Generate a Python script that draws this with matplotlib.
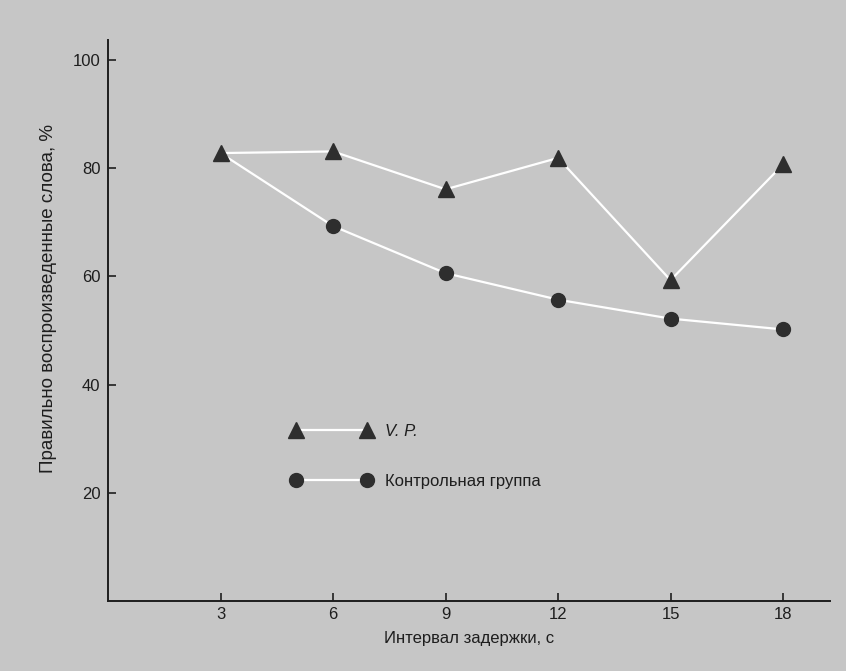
import matplotlib.pyplot as plt
from matplotlib.lines import Line2D

plt.rcParams['font.family'] = ['Liberation Sans Narrow', 'Liberation Sans', 'DejaVu Sans']

# data
delay = [3, 6, 9, 12, 15, 18]
vp = [82.8, 83.1, 76.1, 81.9, 59.3, 80.7]
control = [82.8, 69.3, 60.6, 55.7, 52.2, 50.2]

bg = '#c6c6c6'
dark = '#2e2e2e'
ink = '#1e1e1e'

fig = plt.figure(figsize=(8.46, 6.71), dpi=100, facecolor=bg)
ax = fig.add_axes([0.1277, 0.1043, 0.8533, 0.8361])
ax.set_facecolor(bg)

#lines
ax.plot(delay, vp, color='white', lw=1.6, zorder=2)
ax.plot(delay, control, color='white', lw=1.6, zorder=2)
# no separate circle at 3 s, the control line starts under the triangle
ax.plot(delay[1:], control[1:], ls='none', marker='o', ms=10, color=dark, zorder=3)
ax.plot(delay, vp, ls='none', marker='^', ms=11, color=dark, zorder=4)

ax.set_xlim(0, 19.25)
ax.set_ylim(0, 103.7)
ax.set_xticks(delay)
ax.set_yticks([20, 40, 60, 80, 100])

for s in ['top', 'right']:
    ax.spines[s].set_visible(False)
for s in ['left', 'bottom']:
    ax.spines[s].set_color(ink)
    ax.spines[s].set_linewidth(1.4)
ax.tick_params(direction='in', length=6, width=1.2, color=ink,
               labelsize=12, labelcolor=ink)
ax.tick_params(axis='x', pad=4)
ax.tick_params(axis='y', pad=5.5)

ax.set_xlabel('Интервал задержки, с', fontsize=12, color=ink, labelpad=7)
ax.set_ylabel('Правильно воспроизведенные слова, %', fontsize=13.5, color=ink)
ax.yaxis.set_label_coords(-0.071, 0.54)

handles = [
    Line2D([], [], color='white', lw=1.6, marker='^', ms=11, mfc=dark, mec=dark),
    Line2D([], [], color='white', lw=1.6, marker='o', ms=10, mfc=dark, mec=dark),
]
labels = ['V. P.', 'Контрольная группа']
leg = ax.legend(handles, labels, loc='upper left', bbox_to_anchor=(0.253, 0.316),
                frameon=False, numpoints=2, handlelength=4.86, handletextpad=0.8,
                labelspacing=2.1, borderpad=0, borderaxespad=0, fontsize=12)
leg.get_texts()[0].set_style('italic')
for t in leg.get_texts():
    t.set_color(ink)

fig.savefig('out.png', dpi=100, facecolor=bg)
